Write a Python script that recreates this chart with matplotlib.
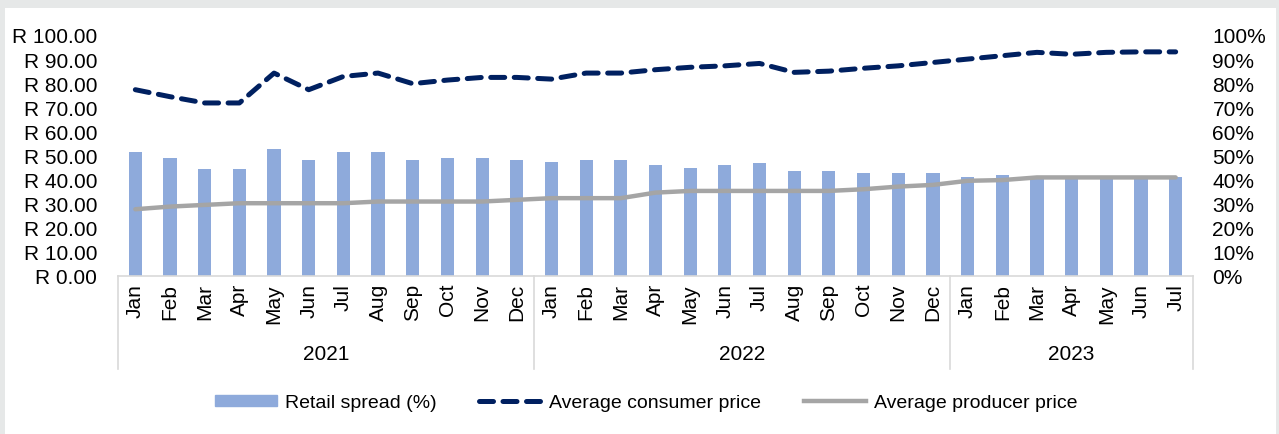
import matplotlib.pyplot as plt
import matplotlib.patches as mpatches
from matplotlib.lines import Line2D
from matplotlib.ticker import FuncFormatter
import numpy as np

plt.rcParams['font.family'] = ['Liberation Sans Narrow', 'Liberation Sans', 'DejaVu Sans']

months = ["Jan", "Feb", "Mar", "Apr", "May", "Jun", "Jul", "Aug", "Sep", "Oct", "Nov", "Dec",
          "Jan", "Feb", "Mar", "Apr", "May", "Jun", "Jul", "Aug", "Sep", "Oct", "Nov", "Dec",
          "Jan", "Feb", "Mar", "Apr", "May", "Jun", "Jul"]
years = ["2021", "2022", "2023"]
year_counts = [12, 12, 7]

# retail spread, percent (right axis)
retail_spread = [51.5, 49.0, 44.3, 44.3, 52.9, 48.2, 51.5, 51.5, 48.2, 49.0, 49.0, 48.2,
                 47.4, 48.2, 48.2, 45.9, 45.0, 45.9, 46.7, 43.5, 43.5, 42.8, 42.8, 42.8,
                 41.1, 42.0, 41.1, 41.0, 41.0, 41.0, 41.0]
# rand per unit (left axis)
consumer_price = [77.3, 74.4, 71.8, 71.8, 84.2, 77.3, 82.8, 84.2, 79.8, 81.3, 82.4, 82.4,
                  81.7, 84.2, 84.2, 85.6, 86.6, 87.2, 88.2, 84.5, 85.0, 86.2, 87.2, 88.6,
                  90.0, 91.4, 92.8, 92.0, 92.8, 93.0, 93.0]
producer_price = [27.7, 28.8, 29.5, 30.2, 30.2, 30.2, 30.2, 30.9, 30.9, 30.9, 30.9, 31.6,
                  32.3, 32.3, 32.3, 34.6, 35.3, 35.3, 35.3, 35.3, 35.3, 36.0, 37.1, 37.8,
                  39.5, 39.8, 40.9, 40.9, 40.9, 40.9, 40.9]

bar_col = "#8eaadb"
navy = "#002060"
grey = "#a5a5a5"
frame_col = "#d9d9d9"
fs = 15

fig = plt.figure(figsize=(12.79, 4.35), dpi=100, facecolor="#e6e8e8")
fig.patches.append(mpatches.Rectangle((5 / 1279, 0), 1271 / 1279, 426 / 435,
                                      transform=fig.transFigure, facecolor="white",
                                      edgecolor="none", zorder=-10))

ax = fig.add_axes([118 / 1279, 1 - 277 / 435, 1075 / 1279, 241 / 435])
ax2 = ax.twinx()
ax.set_zorder(ax2.get_zorder() + 1)
ax.patch.set_visible(False)
ax2.patch.set_visible(False)

x = np.arange(len(months))
ax2.bar(x, retail_spread, width=0.38, color=bar_col, zorder=2)
ax.plot(x, consumer_price, color=navy, lw=3.6, dashes=(2.8, 1.9), dash_capstyle="round")
ax.plot(x, producer_price, color=grey, lw=3.2, solid_capstyle="round")

for a in (ax, ax2):
    a.set_xlim(-0.5, len(months) - 0.5)
    a.set_ylim(0, 100)
    a.set_yticks(np.arange(0, 101, 10))
    for s in a.spines.values():
        s.set_visible(False)
    a.tick_params(length=0, labelsize=fs)

ax.yaxis.set_major_formatter(FuncFormatter(lambda v, p: f"R {v:.2f}"))
ax2.yaxis.set_major_formatter(FuncFormatter(lambda v, p: f"{v:.0f}%"))
ax.tick_params(axis="y", pad=15)
ax2.tick_params(axis="y", pad=14)

ax.set_xticks(x)
ax.set_xticklabels(months, rotation=90, fontsize=fs)
ax.tick_params(axis="x", pad=5)

# bottom axis line and category group frame
ax.axhline(0, color=frame_col, lw=1.2, clip_on=False, zorder=1)
bounds = np.concatenate([[0], np.cumsum(year_counts)]) - 0.5
trans = ax.get_xaxis_transform()
for b in bounds:
    ax.add_line(Line2D([b, b], [0, -93 / 241], transform=trans, color=frame_col,
                       lw=1.2, clip_on=False))
for i, yr in enumerate(years):
    ax.text((bounds[i] + bounds[i + 1]) / 2, -78 / 241, yr, transform=trans,
            ha="center", va="center", fontsize=fs)

handles = [mpatches.Patch(color=bar_col, label="Retail spread (%)"),
           Line2D([], [], color=navy, lw=3.6, dashes=(2.8, 1.9), dash_capstyle="round",
                  label="Average consumer price"),
           Line2D([], [], color=grey, lw=3.2, label="Average producer price")]
fig.legend(handles=handles, loc="center", bbox_to_anchor=(0.505, 1 - 404 / 435), ncol=3,
           frameon=False, fontsize=14, handlelength=3.2, handleheight=0.5,
           columnspacing=2.2, handletextpad=0.4)

fig.savefig("out.png", dpi=100, facecolor=fig.get_facecolor())
